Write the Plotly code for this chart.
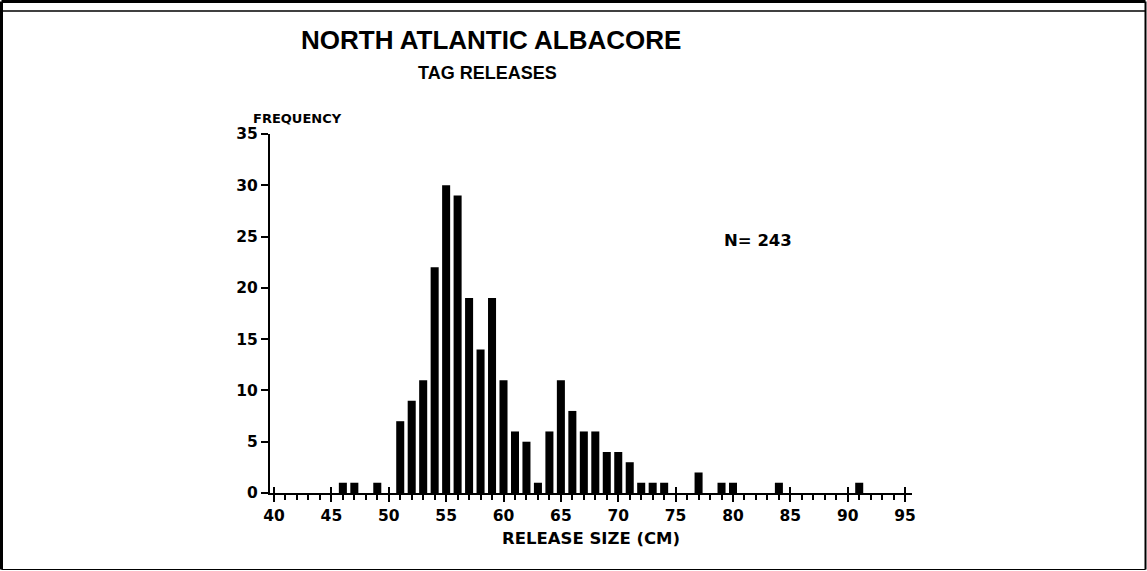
import plotly.graph_objects as go

# Data
release_size_cm = [46, 47, 49, 51, 52, 53, 54, 55, 56, 57, 58, 59, 60, 61, 62, 63,
                   64, 65, 66, 67, 68, 69, 70, 71, 72, 73, 74, 77, 79, 80, 84, 91]
frequency = [1, 1, 1, 7, 9, 11, 22, 30, 29, 19, 14, 19, 11, 6, 5, 1,
             6, 11, 8, 6, 6, 4, 4, 3, 1, 1, 1, 2, 1, 1, 1, 1]
x_ticks = [40, 45, 50, 55, 60, 65, 70, 75, 80, 85, 90, 95]
y_ticks = [0, 5, 10, 15, 20, 25, 30, 35]
n_total = 243

FONT = "Liberation Sans"
HEAVY = "DejaVu Sans"
W, H = 1147, 571
L, R, T, B = 270, 235, 134, 78
PW, PH = W - L - R, H - T - B

def px(xp):
    return (xp - L) / PW

def py(yp):
    return (H - B - yp) / PH

fig = go.Figure()
fig.add_trace(go.Bar(x=release_size_cm, y=frequency, width=0.7,
                     marker=dict(color="black", line=dict(width=0)),
                     showlegend=False, hoverinfo="x+y"))
# invisible trace on overlay axis to activate it
fig.add_trace(go.Scatter(x=[40], y=[0], xaxis="x2", mode="markers",
                         marker=dict(opacity=0), showlegend=False, hoverinfo="skip"))

xrange = [39.65, 95.6]
tickfont = dict(family=HEAVY, size=15.5, color="black", weight="bold")
fig.update_layout(
    width=W, height=H,
    margin=dict(l=L, r=R, t=T, b=B),
    paper_bgcolor="white", plot_bgcolor="white",
    font=dict(family=HEAVY, size=14, color="black", weight="bold"),
    xaxis=dict(range=xrange, tickmode="array", tickvals=x_ticks,
               ticktext=[str(v) for v in x_ticks],
               ticks="outside", ticklen=7, tickwidth=2, tickcolor="black",
               minor=dict(dtick=1, tick0=40, ticks="outside", ticklen=5,
                          tickwidth=1.5, tickcolor="black"),
               showline=True, linecolor="black", linewidth=2,
               showgrid=False, zeroline=False,
               tickfont=tickfont,
               title=dict(text="RELEASE SIZE (CM)", standoff=9,
                          font=dict(family=HEAVY, size=16.5, color="black", weight="bold"))),
    xaxis2=dict(range=xrange, overlaying="x", anchor="y", side="bottom",
                tickmode="array", tickvals=x_ticks, showticklabels=False,
                ticks="inside", ticklen=6, tickwidth=2, tickcolor="black",
                showline=False, showgrid=False, zeroline=False),
    yaxis=dict(range=[0, 35], tickmode="array", tickvals=y_ticks,
               ticktext=[str(v) for v in y_ticks],
               ticks="outside", ticklen=7, tickwidth=2, tickcolor="black",
               showline=True, linecolor="black", linewidth=2,
               showgrid=False, zeroline=False,
               tickfont=tickfont),
)

annots = [
    dict(text="NORTH ATLANTIC ALBACORE", x=px(491), y=py(40), size=26),
    dict(text="TAG RELEASES", x=px(487), y=py(73), size=18),
]
for a in annots:
    fig.add_annotation(text=a["text"], xref="paper", yref="paper", x=a["x"], y=a["y"],
                       xanchor="center", yanchor="middle", showarrow=False,
                       font=dict(family=FONT, size=a["size"], color="black", weight="bold"))

fig.add_annotation(text="FREQUENCY", xref="paper", yref="paper", x=px(251), y=py(119),
                   xanchor="left", yanchor="middle", showarrow=False,
                   font=dict(family=HEAVY, size=13, color="black", weight="bold"))
fig.add_annotation(text="N= " + str(n_total), xref="x", yref="y", x=79.0, y=24.6,
                   xanchor="left", yanchor="middle", showarrow=False,
                   font=dict(family=HEAVY, size=16.5, color="black", weight="bold"))

# page frame
frame = [
    (1.5, 1.5, 1145.5, 1.5, 3),
    (1.5, 11, 1145.5, 11, 1.5),
    (1.5, 1.5, 1.5, 569.5, 3),
    (1145.5, 1.5, 1145.5, 569.5, 2),
    (1.5, 569.5, 1145.5, 569.5, 1),
]
for x0, y0, x1, y1, w in frame:
    fig.add_shape(type="line", xref="paper", yref="paper",
                  x0=px(x0), y0=py(y0), x1=px(x1), y1=py(y1),
                  line=dict(color="black", width=w))

fig.write_html("out.html")
